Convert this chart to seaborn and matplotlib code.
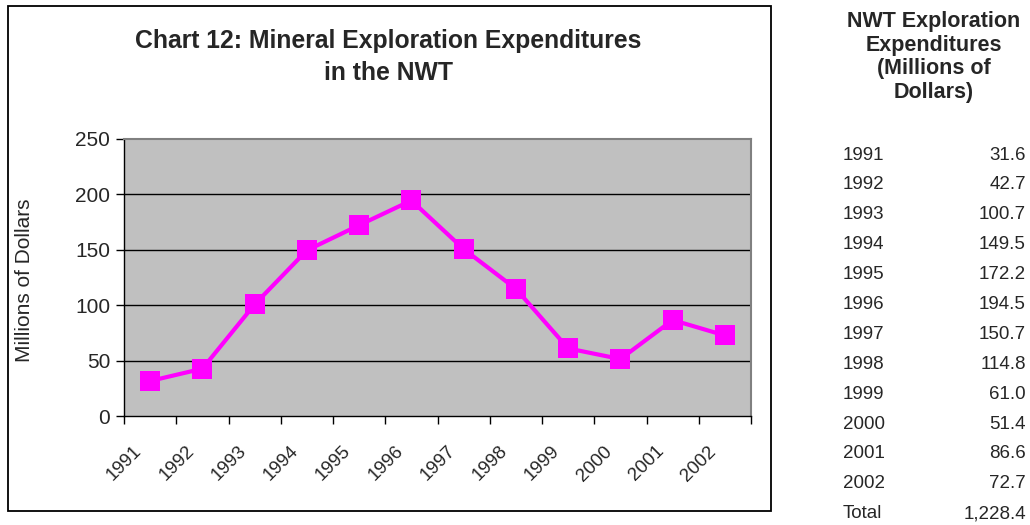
import numpy as np
import pandas as pd
import matplotlib
matplotlib.use("Agg")
import matplotlib.pyplot as plt
import matplotlib.transforms as mtransforms
from matplotlib.patches import Rectangle
import seaborn as sns

years = ["1991", "1992", "1993", "1994", "1995", "1996",
         "1997", "1998", "1999", "2000", "2001", "2002"]
spending = [31.6, 42.7, 100.7, 149.5, 172.2, 194.5,
            150.7, 114.8, 61.0, 51.4, 86.6, 72.7]
y_ticks = [0, 50, 100, 150, 200, 250]

df = pd.DataFrame({"Year": years, "Spending": spending})
df["pos"] = np.arange(len(df))

sns.set_style("white")
plt.rcParams["font.family"] = ["Liberation Sans", "DejaVu Sans"]

W, H = 1030, 525
fig = plt.figure(figsize=(W / 100, H / 100), dpi=100)

# outer chart frame
fig.patches.append(Rectangle((8 / W, 1 - 511 / H), 763 / W, 505 / H,
                             transform=fig.transFigure, fill=False,
                             edgecolor="black", linewidth=1.3, zorder=0))

ax = fig.add_axes([124 / W, 1 - 416 / H, 627 / W, 277 / H])
ax.set_facecolor("#C0C0C0")

sns.lineplot(data=df, x="pos", y="Spending", ax=ax, color="#FF00FF",
             linewidth=3, marker="s", markersize=14, markeredgewidth=0,
             zorder=3)

ax.set_xlim(-0.5, len(years) - 0.5)
ax.set_ylim(0, 250)
ax.set_yticks(y_ticks)
for v in y_ticks[1:-1]:
    ax.axhline(v, color="black", linewidth=1, zorder=1)

# tick marks at category boundaries, labels at centres
ax.set_xticks(np.arange(len(years) + 1) - 0.5)
ax.set_xticklabels([])
ax.set_xticks(df["pos"], minor=True)
ax.set_xticklabels(years, minor=True, rotation=45, ha="right",
                   rotation_mode="anchor", fontsize=13.5)
ax.tick_params(axis="x", which="minor", length=0, pad=12)
ax.tick_params(axis="x", which="major", length=6, width=1, color="black",
               direction="out", bottom=True)
ax.tick_params(axis="y", length=6, width=1, color="black", direction="out",
               left=True, labelsize=15, pad=4)
shift = mtransforms.ScaledTranslation(-17 / 100, -10 / 100, fig.dpi_scale_trans)
for lbl in ax.get_xticklabels(minor=True):
    lbl.set_transform(lbl.get_transform() + shift)

for s in ["top", "right"]:
    ax.spines[s].set_color("#808080")
    ax.spines[s].set_linewidth(1.5)
for s in ["left", "bottom"]:
    ax.spines[s].set_color("black")
    ax.spines[s].set_linewidth(1)

ax.set_xlabel("")
ax.set_ylabel("Millions of Dollars", fontsize=15)
ax.yaxis.set_label_coords(-0.143, 0.49)

fig.text(388 / W, 1 - 57 / H, "Chart 12: Mineral Exploration Expenditures\nin the NWT",
         ha="center", va="center", fontsize=17.8, fontweight="bold",
         linespacing=1.45)

# side table
fig.text(934 / W, 1 - 57 / H, "NWT Exploration\nExpenditures\n(Millions of\nDollars)",
         ha="center", va="center", fontsize=15.5, fontweight="bold",
         linespacing=1.15)

row_y = 155
for yr, val in zip(years, spending):
    fig.text(843 / W, 1 - row_y / H, yr, ha="left", va="center", fontsize=13.5)
    fig.text(1026 / W, 1 - row_y / H, f"{val:,.1f}", ha="right", va="center",
             fontsize=13.5)
    row_y += 29.9
fig.text(843 / W, 1 - row_y / H, "Total", ha="left", va="center", fontsize=13.5)
fig.text(1026 / W, 1 - row_y / H, f"{sum(spending):,.1f}", ha="right",
         va="center", fontsize=13.5)

fig.savefig("out.png", dpi=100)
